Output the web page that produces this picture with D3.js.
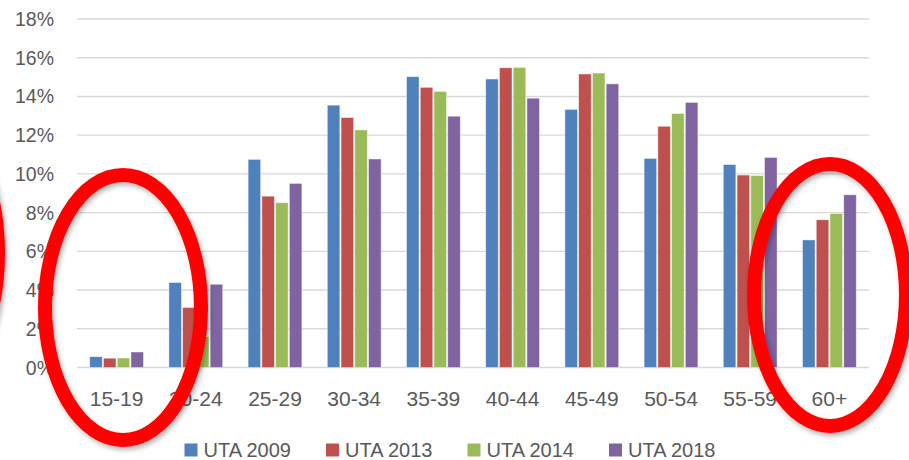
<!DOCTYPE html>
<html>
<head>
<meta charset="utf-8">
<script src="https://cdn.jsdelivr.net/npm/d3@7"></script>
<style>
  body { margin: 0; background: #fff; }
  svg text { font-family: "Liberation Sans", Arial, sans-serif; fill: #595959; }
</style>
</head>
<body>
<div id="viz"></div>
<script>
const ageGroups = ['15-19','20-24','25-29','30-34','35-39','40-44','45-49','50-54','55-59','60+'];
const seriesNames = ['UTA 2009','UTA 2013','UTA 2014','UTA 2018'];
const uta2009 = [0.56, 4.39, 10.75, 13.55, 15.02, 14.90, 13.33, 10.80, 10.48, 6.59];
const uta2013 = [0.48, 3.10, 8.85, 12.91, 14.47, 15.48, 15.16, 12.46, 9.94, 7.63];
const uta2014 = [0.49, 1.60, 8.51, 12.27, 14.26, 15.50, 15.21, 13.12, 9.91, 7.95];
const uta2018 = [0.80, 4.30, 9.51, 10.77, 12.98, 13.91, 14.65, 13.69, 10.85, 8.92];
const yTicks = [0, 2, 4, 6, 8, 10, 12, 14, 16, 18];
const colors = ['#4F81BD', '#C0504D', '#9BBB59', '#8064A2'];

const allSeries = [uta2009, uta2013, uta2014, uta2018];

const W = 909, H = 460;
const plot = { left: 77, right: 869, top: 19, bottom: 367.5 };

const svg = d3.select('#viz').append('svg')
  .attr('width', W).attr('height', H);

const defs = svg.append('defs');
defs.append('filter').attr('id', 'shadow')
  .attr('x', '-20%').attr('y', '-20%').attr('width', '140%').attr('height', '140%')
  .append('feDropShadow')
    .attr('dx', 2).attr('dy', 3).attr('stdDeviation', 2.5)
    .attr('flood-color', '#000').attr('flood-opacity', 0.3);

const x0 = d3.scaleBand().domain(ageGroups).range([plot.left, plot.right]);
const groupW = 55;
const x1 = d3.scaleBand().domain(seriesNames)
  .range([(x0.bandwidth() - groupW) / 2, (x0.bandwidth() + groupW) / 2]);
const y = d3.scaleLinear().domain([0, 18]).range([plot.bottom, plot.top]);

// gridlines
svg.append('g').selectAll('line').data(yTicks).join('line')
  .attr('x1', plot.left).attr('x2', plot.right)
  .attr('y1', d => y(d)).attr('y2', d => y(d))
  .attr('stroke', '#D9D9D9').attr('stroke-width', 1.4);

// y tick labels
svg.append('g').selectAll('text').data(yTicks).join('text')
  .attr('x', 54).attr('y', d => y(d))
  .attr('text-anchor', 'end').attr('dominant-baseline', 'central')
  .attr('font-size', '19.5px')
  .text(d => d + '%');

// bars
const groups = svg.append('g').selectAll('g').data(ageGroups).join('g')
  .attr('transform', d => `translate(${x0(d)},0)`);
groups.selectAll('rect')
  .data((d, i) => seriesNames.map((s, j) => ({ s, v: allSeries[j][i], c: colors[j] })))
  .join('rect')
    .attr('x', d => x1(d.s) + 0.6)
    .attr('width', x1.bandwidth() - 1.2)
    .attr('y', d => y(d.v))
    .attr('height', d => y(0) - y(d.v))
    .attr('fill', d => d.c)
    .attr('stroke', '#fff').attr('stroke-opacity', 0.55).attr('stroke-width', 0.8);

// category labels
svg.append('g').selectAll('text').data(ageGroups).join('text')
  .attr('x', d => x0(d) + x0.bandwidth() / 2)
  .attr('y', 398.5)
  .attr('text-anchor', 'middle').attr('dominant-baseline', 'central')
  .attr('font-size', '21px')
  .text(d => d);

// legend
const legendX = [184.5, 326, 467.5, 609];
const legend = svg.append('g').selectAll('g').data(seriesNames).join('g')
  .attr('transform', (d, i) => `translate(${legendX[i]},443.5)`);
legend.append('rect')
  .attr('width', 13).attr('height', 13)
  .attr('fill', (d, i) => colors[i]);
legend.append('text')
  .attr('x', 19).attr('y', 6.5)
  .attr('dominant-baseline', 'central')
  .attr('font-size', '20px')
  .text(d => d);

// red highlight ellipses
const rings = [
  { cx: -75, cy: 253, rx: 73, ry: 140 },
  { cx: 123, cy: 307.5, rx: 78, ry: 132.5 },
  { cx: 830, cy: 295, rx: 76, ry: 131 }
];
svg.append('g').selectAll('ellipse').data(rings).join('ellipse')
  .attr('cx', d => d.cx).attr('cy', d => d.cy)
  .attr('rx', d => d.rx).attr('ry', d => d.ry)
  .attr('fill', 'none').attr('stroke', '#FF0000').attr('stroke-width', 14)
  .attr('filter', 'url(#shadow)');
</script>
</body>
</html>
